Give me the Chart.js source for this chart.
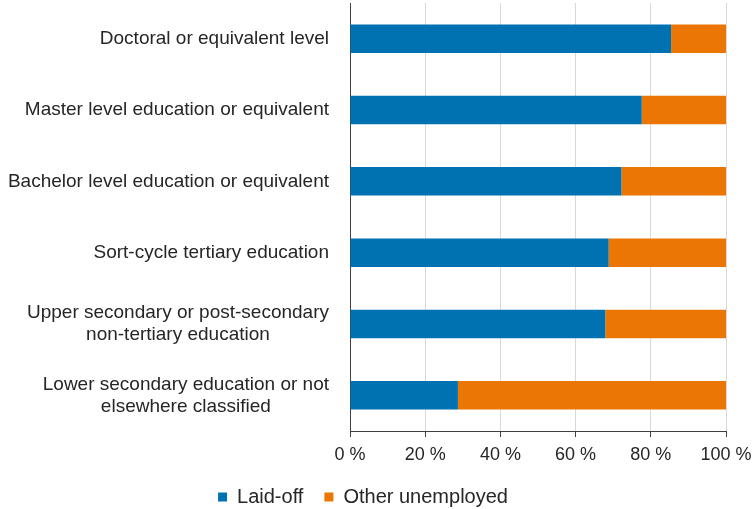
<!DOCTYPE html>
<html>
<head>
<meta charset="utf-8">
<script src="https://cdn.jsdelivr.net/npm/chart.js@4.4.1/dist/chart.umd.min.js"></script>
<style>
  html, body { margin: 0; padding: 0; background: #fff; }
  #wrap { width: 753px; height: 509px; }
</style>
</head>
<body>
<div id="wrap"><canvas id="eduChart"></canvas></div>
<script>
// categories (top to bottom)
const categories = [
  "Doctoral or equivalent level",
  "Master level education or equivalent",
  "Bachelor level education or equivalent",
  "Sort-cycle tertiary education",
  ["Upper secondary or post-secondary", "non-tertiary education"],
  ["Lower secondary education or not", "elsewhere classified"],
];
// shares in %
const laidOff = [85.4, 77.6, 72.2, 68.8, 67.9, 28.7];
const otherUnemployed = [14.6, 22.4, 27.8, 31.2, 32.1, 71.3];
const xTicks = [0, 20, 40, 60, 80, 100];

const textColor = "#262626";
const fontFamily = "'Liberation Sans', Arial, sans-serif";

// y labels: right aligned block, lines centred inside the block
const catLabels = {
  id: "catLabels",
  afterDraw(chart) {
    const ctx = chart.ctx;
    const yScale = chart.scales.y;
    const right = chart.chartArea.left - 21;
    ctx.save();
    ctx.font = "19px " + fontFamily;
    ctx.fillStyle = textColor;
    ctx.textAlign = "center";
    ctx.textBaseline = "middle";
    categories.forEach((label, i) => {
      const lines = Array.isArray(label) ? label : [label];
      const maxW = Math.max(...lines.map((l) => ctx.measureText(l).width));
      const cx = right - maxW / 2;
      const lh = 22;
      const y0 = yScale.getPixelForTick(i) - ((lines.length - 1) * lh) / 2;
      lines.forEach((l, j) => ctx.fillText(l, cx, y0 + j * lh));
    });
    ctx.restore();
  },
};

// fixed legend height so the plot keeps its size
const legendHeight = {
  id: "legendHeight",
  beforeInit(chart) {
    const origFit = chart.legend.fit;
    chart.legend.fit = function () {
      origFit.call(this);
      this.height = 43;
    };
  },
};

const ctxEdu = document.getElementById("eduChart").getContext("2d");
new Chart(ctxEdu, {
  type: "bar",
  data: {
    labels: categories,
    datasets: [
      {
        label: "Laid-off",
        data: laidOff,
        backgroundColor: "#0072B2",
        barPercentage: 0.4,
        categoryPercentage: 1,
      },
      {
        label: "Other unemployed",
        data: otherUnemployed,
        backgroundColor: "#EB7603",
        barPercentage: 0.4,
        categoryPercentage: 1,
      },
    ],
  },
  options: {
    indexAxis: "y",
    responsive: true,
    maintainAspectRatio: false,
    animation: false,
    layout: { padding: { top: 3, right: 27, bottom: 0, left: 0 } },
    scales: {
      x: {
        stacked: true,
        min: 0,
        max: 100,
        afterBuildTicks: (scale) => {
          scale.ticks = xTicks.map((v) => ({ value: v }));
        },
        afterFit: (scale) => {
          scale.height = 35;
          scale.paddingLeft = 0;
          scale.paddingRight = 0;
        },
        ticks: {
          callback: (v) => v + " %",
          color: textColor,
          font: { size: 18, family: fontFamily },
          padding: 7,
          maxRotation: 0,
        },
        grid: {
          color: "#d9d9d9",
          tickColor: "#404040",
          tickLength: 6,
        },
        border: { display: true, color: "#404040", width: 1 },
      },
      y: {
        stacked: true,
        ticks: { display: false },
        grid: { display: false },
        border: { display: true, color: "#404040", width: 1 },
        afterFit: (scale) => {
          scale.width = 350;
        },
      },
    },
    plugins: {
      legend: {
        position: "bottom",
        labels: {
          boxWidth: 9,
          boxHeight: 9,
          color: textColor,
          font: { size: 20, family: fontFamily },
          padding: 21,
        },
      },
      tooltip: { enabled: false },
    },
  },
  plugins: [catLabels, legendHeight],
});
</script>
</body>
</html>
